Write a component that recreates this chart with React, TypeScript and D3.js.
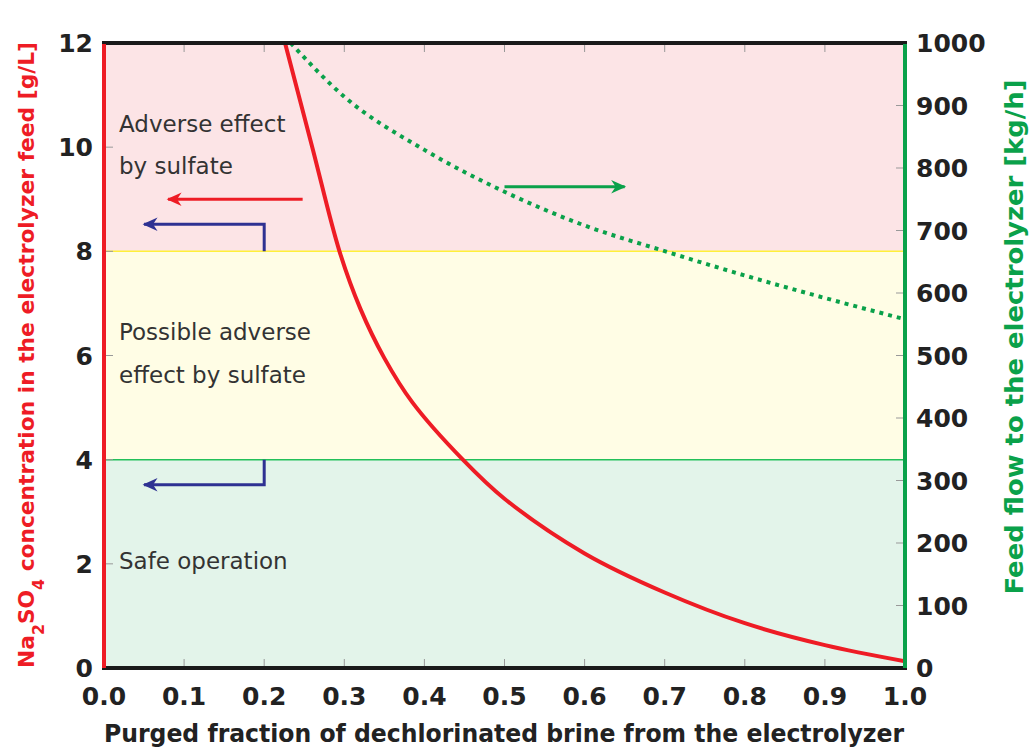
import React from "react";
import * as d3 from "d3";

const purge = [0.226, 0.26, 0.294, 0.32, 0.35, 0.385, 0.448, 0.5, 0.6, 0.7, 0.8, 0.9, 1.0];
const sulfate = [12, 10.0, 8.0, 6.9, 5.95, 5.1, 4.0, 3.25, 2.2, 1.45, 0.86, 0.44, 0.13];
const flowPurge = [0.233, 0.3, 0.4, 0.5, 0.6, 0.7, 0.8, 0.9, 1.0];
const flow = [1000, 914, 829, 762, 708, 667, 628, 592, 558];
const xTicks = [0, 0.1, 0.2, 0.3, 0.4, 0.5, 0.6, 0.7, 0.8, 0.9, 1.0];
const yTicks = [0, 2, 4, 6, 8, 10, 12];
const y2Ticks = [0, 100, 200, 300, 400, 500, 600, 700, 800, 900, 1000];
const zones = [
  { lo: 8, hi: 12, fill: "#fce4e6", line: "#fff03a" },
  { lo: 4, hi: 8, fill: "#fffde5", line: "#22c05a" },
  { lo: 0, hi: 4, fill: "#e3f4ea", line: null },
];

const L = 104, R = 905, T = 43, B = 668;
const font = "'DejaVu Sans', sans-serif";

export default function App() {
  const x = d3.scaleLinear().domain([0, 1]).range([L, R]);
  const y = d3.scaleLinear().domain([0, 12]).range([B, T]);
  const y2 = d3.scaleLinear().domain([0, 1000]).range([B, T]);
  const redLine = d3.line<number>().x((_, i) => x(purge[i])).y((d) => y(d)).curve(d3.curveCatmullRom.alpha(0.5))(sulfate) || "";
  const greenLine = d3.line<number>().x((_, i) => x(flowPurge[i])).y((d) => y2(d)).curve(d3.curveMonotoneX)(flow) || "";
  const tick = "#999";
  const mk = (id: string, c: string) => (
    <marker id={id} viewBox="0 0 10 10" refX="9" refY="5" markerWidth="5.5" markerHeight="5" orient="auto" markerUnits="strokeWidth">
      <path d="M0,0.5 L10,5 L0,9.5 L3,5 Z" fill={c} />
    </marker>
  );
  return (
    <svg width={1030} height={753} style={{ position: "absolute", left: 0, top: 0 }} fontFamily={font}>
      <defs>
        {mk("arR", "#ee1c25")}
        {mk("arG", "#0aa14a")}
        {mk("arB", "#2e3192")}
        <clipPath id="clip"><rect x={L} y={T} width={R - L} height={B - T} /></clipPath>
      </defs>
      {zones.map((z, i) => (
        <rect key={i} x={L} y={y(z.hi)} width={R - L} height={y(z.lo) - y(z.hi)} fill={z.fill} />
      ))}
      {zones.filter((z) => z.line).map((z, i) => (
        <line key={i} x1={L} x2={R} y1={y(z.lo)} y2={y(z.lo)} stroke={z.line!} strokeWidth={1.5} />
      ))}
      {xTicks.map((t) => (
        <g key={t}>
          <line x1={x(t)} x2={x(t)} y1={B} y2={B - 9} stroke={tick} strokeWidth={1} />
          <line x1={x(t)} x2={x(t)} y1={T} y2={T + 9} stroke={tick} strokeWidth={1} />
          <text x={x(t)} y={705} textAnchor="middle" fontSize={25} fontWeight="bold" fill="#222">{t.toFixed(1)}</text>
        </g>
      ))}
      {yTicks.map((t) => (
        <g key={t}>
          <line x1={L} x2={L + 9} y1={y(t)} y2={y(t)} stroke={tick} strokeWidth={1} />
          <text x={93} y={y(t) + 9} textAnchor="end" fontSize={25} fontWeight="bold" fill="#222">{t}</text>
        </g>
      ))}
      {y2Ticks.map((t) => (
        <g key={t}>
          <line x1={R} x2={R - 9} y1={y2(t)} y2={y2(t)} stroke={tick} strokeWidth={1} />
          <text x={916} y={y2(t) + 9} textAnchor="start" fontSize={25} fontWeight="bold" fill="#222">{t}</text>
        </g>
      ))}
      <g clipPath="url(#clip)">
        <path d={greenLine} fill="none" stroke="#0aa14a" strokeWidth={4} strokeDasharray="4,5" />
        <path d={redLine} fill="none" stroke="#ee1c25" strokeWidth={4} />
      </g>
      <line x1={L - 2} x2={R + 2} y1={T} y2={T} stroke="#1a1a1a" strokeWidth={4} />
      <line x1={L - 2} x2={R + 2} y1={B} y2={B} stroke="#1a1a1a" strokeWidth={4} />
      <line x1={L} x2={L} y1={T + 1} y2={B} stroke="#ee1c25" strokeWidth={4} />
      <line x1={R} x2={R} y1={T + 1} y2={B} stroke="#0aa14a" strokeWidth={4} />
      <line x1={x(0.248)} x2={x(0.08)} y1={y(9.0)} y2={y(9.0)} stroke="#ee1c25" strokeWidth={3} markerEnd="url(#arR)" />
      <line x1={x(0.5)} x2={x(0.65)} y1={y2(770)} y2={y2(770)} stroke="#0aa14a" strokeWidth={3} markerEnd="url(#arG)" />
      <polyline points={`${x(0.2)},${y(8)} ${x(0.2)},${y(8.52)} ${x(0.05)},${y(8.52)}`} fill="none" stroke="#2e3192" strokeWidth={3} markerEnd="url(#arB)" />
      <polyline points={`${x(0.2)},${y(4)} ${x(0.2)},${y(3.52)} ${x(0.05)},${y(3.52)}`} fill="none" stroke="#2e3192" strokeWidth={3} markerEnd="url(#arB)" />
      <g fontSize={23} fill="#333">
        <text x={119} y={132}>Adverse effect</text>
        <text x={119} y={174}>by sulfate</text>
        <text x={119} y={340}>Possible adverse</text>
        <text x={119} y={383}>effect by sulfate</text>
        <text x={119} y={569}>Safe operation</text>
      </g>
      <text x={504} y={742} textAnchor="middle" fontSize={24} fontWeight="bold" fill="#222" textLength={800} lengthAdjust="spacingAndGlyphs">Purged fraction of dechlorinated brine from the electrolyzer</text>
      <text transform="translate(34,355) rotate(-90)" textAnchor="middle" fontSize={22} fontWeight="bold" fill="#ee1c25" textLength={626} lengthAdjust="spacingAndGlyphs">
        Na<tspan baselineShift="sub" fontSize={16}>2</tspan>SO<tspan baselineShift="sub" fontSize={16}>4</tspan> concentration in the electrolyzer feed [g/L]
      </text>
      <text transform="translate(1023,337) rotate(-90)" textAnchor="middle" fontSize={24} fontWeight="bold" fill="#0aa14a" textLength={515} lengthAdjust="spacingAndGlyphs">Feed flow to the electrolyzer [kg/h]</text>
    </svg>
  );
}
